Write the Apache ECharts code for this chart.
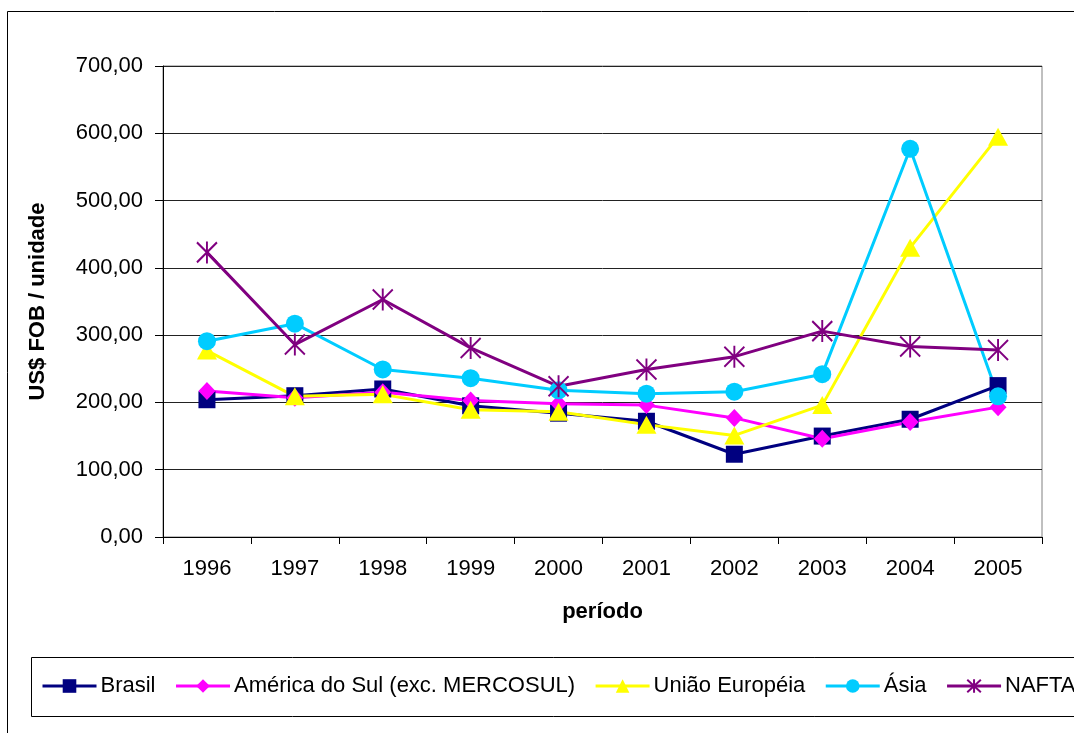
<!DOCTYPE html>
<html>
<head>
<meta charset="utf-8">
<script src="https://cdn.jsdelivr.net/npm/echarts@6/dist/echarts.min.js"></script>
<style>
  html, body { margin: 0; padding: 0; background: #fff; }
  #chart { width: 1074px; height: 733px; }
</style>
</head>
<body>
<div id="chart"></div>
<script>
// Average export price (US$ FOB per unit) by destination, 1996-2005
const years = ['1996', '1997', '1998', '1999', '2000', '2001', '2002', '2003', '2004', '2005'];
const brasil = [204, 210, 220, 195, 184, 172, 123, 150, 175, 225];
const americaDoSul = [217, 207, 215, 203, 198, 196, 177, 146, 171, 193];
const uniaoEuropeia = [277, 209, 212, 189, 186, 167, 151, 196, 430, 595];
const asia = [291, 317, 249, 236, 218, 213, 216, 242, 577, 209];
const nafta = [423, 286, 353, 281, 224, 249, 268, 306, 283, 278];

const FONT = "'Liberation Sans', Arial, sans-serif";
const asterisk = 'path://M0,1L20,21M20,1L0,21M10,0L10,22';

function lineSeries(name, data, color, symbol, size, extraItem) {
  return {
    name: name,
    type: 'line',
    data: data,
    symbol: symbol,
    symbolSize: size,
    showAllSymbol: true,
    lineStyle: { color: color, width: 3 },
    itemStyle: Object.assign({ color: color }, extraItem || {}),
    emphasis: { disabled: true },
    animation: false
  };
}

const chart = echarts.init(document.getElementById('chart'), null, { renderer: 'canvas' });
chart.setOption({
  backgroundColor: '#fff',
  animation: false,
  textStyle: { fontFamily: FONT },
  grid: {
    left: 163, top: 66, right: 32, bottom: 196,
    show: true, borderColor: '#808080', borderWidth: 1, backgroundColor: 'transparent'
  },
  graphic: [
    { type: 'rect', shape: { x: 7.5, y: 11.5, width: 1100, height: 800 },
      style: { fill: 'none', stroke: '#000', lineWidth: 1 }, silent: true, z: -1 },
    { type: 'rect', shape: { x: 31.5, y: 657.5, width: 1100, height: 59 },
      style: { fill: 'none', stroke: '#000', lineWidth: 1 }, silent: true, z: -1 }
  ],
  legend: {
    left: 41, top: 675, width: 1200, height: 30,
    padding: 0,
    itemWidth: 54, itemHeight: 17, itemGap: 19,
    lineStyle: { width: 3 },
    textStyle: { fontFamily: FONT, fontSize: 22, color: '#000', padding: [0, 0, 0, -1] },
    selectedMode: false,
    data: ['Brasil', 'América do Sul (exc. MERCOSUL)', 'União Européia', 'Ásia', 'NAFTA']
  },
  xAxis: {
    type: 'category',
    data: years,
    boundaryGap: true,
    name: 'período',
    nameLocation: 'middle',
    nameGap: 64,
    nameTextStyle: { fontFamily: FONT, fontSize: 22, fontWeight: 'bold', color: '#000' },
    axisLine: { lineStyle: { color: '#000', width: 1 } },
    axisTick: { show: true, length: 7, inside: false, lineStyle: { color: '#000' } },
    axisLabel: { fontFamily: FONT, fontSize: 22, color: '#000', margin: 21 },
    splitLine: { show: false }
  },
  yAxis: {
    type: 'value',
    min: 0, max: 700, interval: 100,
    name: 'US$ FOB / unidade',
    nameLocation: 'middle',
    nameGap: 114,
    nameRotate: 90,
    nameTextStyle: { fontFamily: FONT, fontSize: 22, fontWeight: 'bold', color: '#000' },
    axisLine: { show: true, lineStyle: { color: '#000', width: 1 } },
    axisTick: { show: true, length: 8, lineStyle: { color: '#000' } },
    axisLabel: {
      fontFamily: FONT, fontSize: 22, color: '#000', margin: 20,
      formatter: v => v.toFixed(2).replace('.', ',')
    },
    splitLine: { show: true, lineStyle: { color: '#222', width: 1 } }
  },
  series: [
    lineSeries('Brasil', brasil, '#000080', 'rect', 17),
    lineSeries('América do Sul (exc. MERCOSUL)', americaDoSul, '#FF00FF', 'diamond', [17, 18]),
    lineSeries('União Européia', uniaoEuropeia, '#FFFF00', 'triangle', [20, 18]),
    lineSeries('Ásia', asia, '#00CCFF', 'circle', 18),
    lineSeries('NAFTA', nafta, '#800080', asterisk, [20, 22], { borderColor: '#800080', borderWidth: 2 })
  ]
});
</script>
</body>
</html>
